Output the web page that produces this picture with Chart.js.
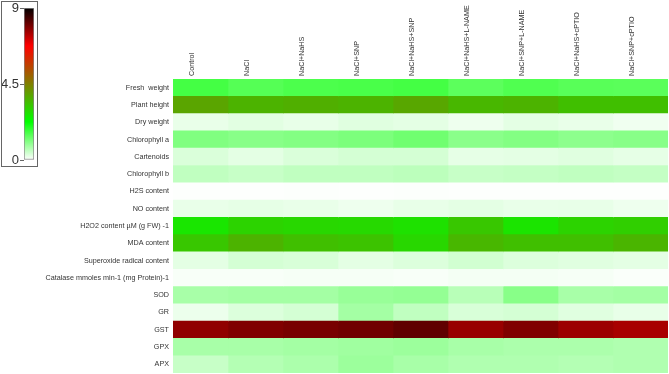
<!DOCTYPE html>
<html>
<head>
<meta charset="utf-8">
<script src="https://cdn.jsdelivr.net/npm/chart.js@4"></script>
<style>
html, body { margin: 0; padding: 0; background: #fff; }
#wrap { position: relative; width: 669px; height: 374px; }
#heat { position: absolute; left: 0; top: 0; }
#keyBox { position: absolute; left: 1px; top: 1px; width: 35px; height: 164px; border: 1px solid #666; background: #fff; }
#key { display: block; }
</style>
</head>
<body>
<div id="wrap">
  <canvas id="heat" width="669" height="374"></canvas>
  <div id="keyBox"><canvas id="key" width="35" height="164"></canvas></div>
</div>
<script>
// === DATA ===
const traits = ['Fresh  weight', 'Plant height', 'Dry weight', 'Chlorophyll a', 'Cartenoids', 'Chlorophyll b',
    'H2S content', 'NO content', 'H2O2 content µM (g FW) -1', 'MDA content', 'Superoxide radical content',
    'Catalase mmoles min-1 (mg Protein)-1', 'SOD', 'GR', 'GST', 'GPX', 'APX'];
const treatments = ['Control', 'NaCl', 'NaCl+NaHS', 'NaCl+SNP', 'NaCl+NaHS+SNP', 'NaCl+NaHS+L-NAME',
    'NaCl+SNP+L-NAME', 'NaCl+NaHS+cPTIO', 'NaCl+SNP+cPTIO'];

// one array per treatment, values in trait order
const control       = [1.65, 3.84, 0.19, 1.12, 0.33, 0.56, 0.02, 0.19, 2.69, 3.24, 0.24, 0.06, 0.77, 0.17, 7.73, 0.77, 0.49];
const nacl          = [1.50, 3.59, 0.26, 1.05, 0.24, 0.49, 0.02, 0.22, 3.03, 3.59, 0.38, 0.06, 0.80, 0.31, 7.87, 0.77, 0.66];
const naclNahs      = [1.58, 3.66, 0.20, 1.09, 0.33, 0.56, 0.03, 0.19, 2.96, 3.38, 0.34, 0.08, 0.80, 0.38, 7.94, 0.80, 0.73];
const naclSnp       = [1.61, 3.59, 0.27, 1.16, 0.38, 0.56, 0.02, 0.15, 2.92, 3.31, 0.24, 0.08, 0.91, 0.80, 8.01, 0.84, 0.87];
const naclNahsSnp   = [1.65, 3.80, 0.24, 1.26, 0.38, 0.59, 0.03, 0.20, 2.78, 2.96, 0.31, 0.06, 0.94, 0.56, 8.15, 0.87, 0.77];
const naclNahsLname = [1.44, 3.52, 0.15, 1.03, 0.22, 0.49, 0.02, 0.24, 3.24, 3.52, 0.41, 0.10, 0.63, 0.34, 7.66, 0.77, 0.70];
const naclSnpLname  = [1.54, 3.59, 0.24, 1.09, 0.24, 0.52, 0.02, 0.19, 2.72, 3.38, 0.31, 0.10, 1.05, 0.38, 7.87, 0.73, 0.70];
const naclNahsCptio = [1.47, 3.38, 0.19, 1.01, 0.27, 0.56, 0.02, 0.20, 3.03, 3.38, 0.27, 0.08, 0.77, 0.27, 7.62, 0.73, 0.66];
const naclSnpCptio  = [1.46, 3.38, 0.13, 1.05, 0.22, 0.52, 0.02, 0.15, 3.10, 3.56, 0.24, 0.04, 0.80, 0.20, 7.52, 0.70, 0.70];
const columns = [control, nacl, naclNahs, naclSnp, naclNahsSnp, naclNahsLname, naclSnpLname, naclNahsCptio, naclSnpCptio];

// colour key
const scaleStops = [0, 2.25, 6.75, 9];
const scaleColors = [[255, 255, 255], [0, 255, 0], [255, 0, 0], [0, 0, 0]];
const keyTicks = [0, 4.5, 9];

const FONT = 'Liberation Sans, Arial, sans-serif';

function heatColor(v) {
    let i = 0;
    while (i < scaleStops.length - 2 && v > scaleStops[i + 1]) i++;
    const t = Math.max(0, Math.min(1, (v - scaleStops[i]) / (scaleStops[i + 1] - scaleStops[i])));
    const a = scaleColors[i], b = scaleColors[i + 1];
    const c = a.map((x, k) => Math.round(x + (b[k] - x) * t));
    return `rgb(${c[0]},${c[1]},${c[2]})`;
}

// === HEATMAP ===
const datasets = columns.map((vals, i) => ({
    data: vals.map((v, j) => ({ x: [i, i + 1], y: traits[j], v })),
    backgroundColor: vals.map(heatColor),
    borderWidth: 0,
    barPercentage: 1,
    categoryPercentage: 1,
    grouped: false
}));

new Chart(document.getElementById('heat'), {
    type: 'bar',
    data: { labels: traits, datasets },
    options: {
        indexAxis: 'y', responsive: false, animation: false,
        layout: { padding: { top: 0, right: 1, bottom: 1, left: 0 } },
        plugins: { legend: { display: false }, tooltip: { enabled: false } },
        scales: {
            x: { type: 'linear', min: 0, max: 9, display: false },
            x2: {
                type: 'category', labels: treatments, position: 'top', offset: true,
                grid: { display: false, drawTicks: false }, border: { display: false },
                ticks: { autoSkip: false, minRotation: 90, maxRotation: 90, padding: 3, color: '#333', font: { size: 7.2, family: FONT } },
                afterFit: s => { s.height = 79; s.paddingLeft = 0; s.paddingRight = 0; }
            },
            y: {
                type: 'category', labels: traits,
                grid: { display: false, drawTicks: false }, border: { display: false },
                ticks: { autoSkip: false, padding: 4, color: '#333', font: { size: 7.2, family: FONT } },
                afterFit: s => { s.width = 173; s.paddingTop = 0; s.paddingBottom = 0; }
            }
        }
    }
});

// === COLOUR KEY ===
new Chart(document.getElementById('key'), {
    type: 'bar',
    data: {
        labels: [''],
        datasets: [{
            data: [[scaleStops[0], scaleStops[scaleStops.length - 1]]],
            backgroundColor: ctx => {
                const area = ctx.chart.chartArea;
                if (!area) return '#ccc';
                const g = ctx.chart.ctx.createLinearGradient(0, area.bottom, 0, area.top);
                scaleStops.forEach(s => g.addColorStop(s / 9, heatColor(s)));
                return g;
            },
            borderColor: '#888', borderWidth: 1, borderSkipped: false,
            barPercentage: 1, categoryPercentage: 1
        }]
    },
    options: {
        responsive: false, animation: false,
        layout: { padding: { top: 6, right: 3, bottom: 6, left: 0 } },
        plugins: { legend: { display: false }, tooltip: { enabled: false } },
        scales: {
            x: { display: false },
            y: {
                min: 0, max: 9,
                afterBuildTicks: s => { s.ticks = keyTicks.map(v => ({ value: v })); },
                grid: { drawOnChartArea: false, tickLength: 4, color: '#666' },
                border: { display: false },
                ticks: { padding: 1, color: '#333', font: { size: 13, family: FONT } },
                afterFit: s => { s.width = 22; s.paddingTop = 0; s.paddingBottom = 0; }
            }
        }
    }
});
</script>
</body>
</html>
